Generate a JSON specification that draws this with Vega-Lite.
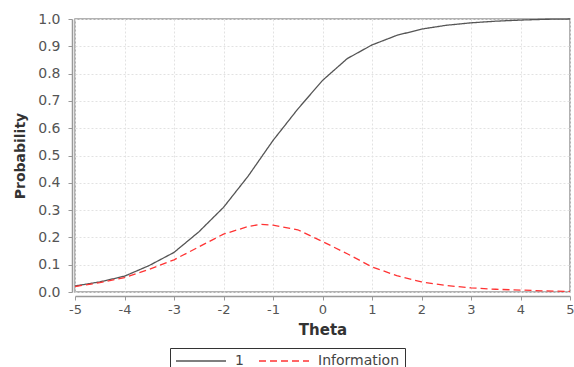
{
  "$schema": "https://vega.github.io/schema/vega-lite/v6.json",
  "width": 495,
  "height": 273,
  "autosize": "none",
  "padding": {"left": 75, "top": 19, "right": 4, "bottom": 75},
  "background": "white",
  "config": {
    "font": "DejaVu Sans",
    "view": {"stroke": "#999999", "strokeWidth": 1.5}
  },
  "data": {
    "values": [
      {"theta": -5, "value": 0.022, "series": "1"},
      {"theta": -4.5, "value": 0.037, "series": "1"},
      {"theta": -4, "value": 0.058, "series": "1"},
      {"theta": -3.5, "value": 0.097, "series": "1"},
      {"theta": -3, "value": 0.145, "series": "1"},
      {"theta": -2.5, "value": 0.22, "series": "1"},
      {"theta": -2, "value": 0.31, "series": "1"},
      {"theta": -1.5, "value": 0.425, "series": "1"},
      {"theta": -1, "value": 0.555, "series": "1"},
      {"theta": -0.5, "value": 0.67, "series": "1"},
      {"theta": 0, "value": 0.775, "series": "1"},
      {"theta": 0.5, "value": 0.855, "series": "1"},
      {"theta": 1, "value": 0.905, "series": "1"},
      {"theta": 1.5, "value": 0.94, "series": "1"},
      {"theta": 2, "value": 0.963, "series": "1"},
      {"theta": 2.5, "value": 0.977, "series": "1"},
      {"theta": 3, "value": 0.986, "series": "1"},
      {"theta": 3.5, "value": 0.992, "series": "1"},
      {"theta": 4, "value": 0.996, "series": "1"},
      {"theta": 4.5, "value": 0.999, "series": "1"},
      {"theta": 5, "value": 1.0, "series": "1"},
      {"theta": -5, "value": 0.02, "series": "Information"},
      {"theta": -4.5, "value": 0.034, "series": "Information"},
      {"theta": -4, "value": 0.053, "series": "Information"},
      {"theta": -3.5, "value": 0.083, "series": "Information"},
      {"theta": -3, "value": 0.118, "series": "Information"},
      {"theta": -2.5, "value": 0.165, "series": "Information"},
      {"theta": -2, "value": 0.212, "series": "Information"},
      {"theta": -1.5, "value": 0.24, "series": "Information"},
      {"theta": -1.25, "value": 0.248, "series": "Information"},
      {"theta": -1, "value": 0.245, "series": "Information"},
      {"theta": -0.5, "value": 0.228, "series": "Information"},
      {"theta": 0, "value": 0.185, "series": "Information"},
      {"theta": 0.5, "value": 0.14, "series": "Information"},
      {"theta": 1, "value": 0.092, "series": "Information"},
      {"theta": 1.5, "value": 0.06, "series": "Information"},
      {"theta": 2, "value": 0.037, "series": "Information"},
      {"theta": 2.5, "value": 0.024, "series": "Information"},
      {"theta": 3, "value": 0.015, "series": "Information"},
      {"theta": 3.5, "value": 0.01, "series": "Information"},
      {"theta": 4, "value": 0.007, "series": "Information"},
      {"theta": 4.5, "value": 0.004, "series": "Information"},
      {"theta": 5, "value": 0.002, "series": "Information"}
    ]
  },
  "mark": {"type": "line", "strokeWidth": 1.3},
  "encoding": {
    "x": {
      "field": "theta", "type": "quantitative",
      "scale": {"domain": [-5, 5], "nice": false, "zero": false},
      "axis": {
        "title": "Theta",
        "values": [-5, -4, -3, -2, -1, 0, 1, 2, 3, 4, 5],
        "labelExpr": "'' + datum.value",
        "offset": 4,
        "domainColor": "#999999", "domainWidth": 1.5,
        "tickColor": "#999999", "tickSize": 4,
        "labelColor": "#555555", "labelFontSize": 13, "labelPadding": 3,
        "labelFlush": false,
        "titleFontSize": 15, "titleFontWeight": "bold", "titleColor": "#333333", "titlePadding": 6,
        "grid": true, "gridColor": "#e2e2e2", "gridDash": [2, 2]
      }
    },
    "y": {
      "field": "value", "type": "quantitative",
      "scale": {"domain": [0, 1], "nice": false},
      "axis": {
        "title": "Probability",
        "values": [0, 0.1, 0.2, 0.3, 0.4, 0.5, 0.6, 0.7, 0.8, 0.9, 1.0],
        "format": ".1f",
        "offset": 3,
        "domainColor": "#999999", "domainWidth": 1.5,
        "tickColor": "#999999", "tickSize": 4,
        "labelColor": "#555555", "labelFontSize": 14, "labelPadding": 8,
        "labelFlush": false,
        "titleFontSize": 14, "titleFontWeight": "bold", "titleColor": "#333333", "titlePadding": 10,
        "grid": true, "gridColor": "#e2e2e2", "gridDash": [2, 2]
      }
    },
    "color": {
      "field": "series", "type": "nominal",
      "scale": {"domain": ["1", "Information"], "range": ["#555555", "#ff3333"]},
      "legend": {
        "title": null,
        "orient": "none",
        "legendX": 95,
        "legendY": 329,
        "direction": "horizontal",
        "symbolType": "stroke",
        "symbolSize": 2500,
        "clipHeight": 16,
        "symbolStrokeWidth": 1.3,
        "labelFontSize": 14,
        "labelColor": "#444444",
        "labelOffset": 8,
        "columnPadding": 14,
        "strokeColor": "#333333",
        "padding": 5
      }
    },
    "strokeDash": {
      "field": "series", "type": "nominal",
      "scale": {"domain": ["1", "Information"], "range": [[1, 0], [7, 4]]},
      "legend": null
    }
  }
}
